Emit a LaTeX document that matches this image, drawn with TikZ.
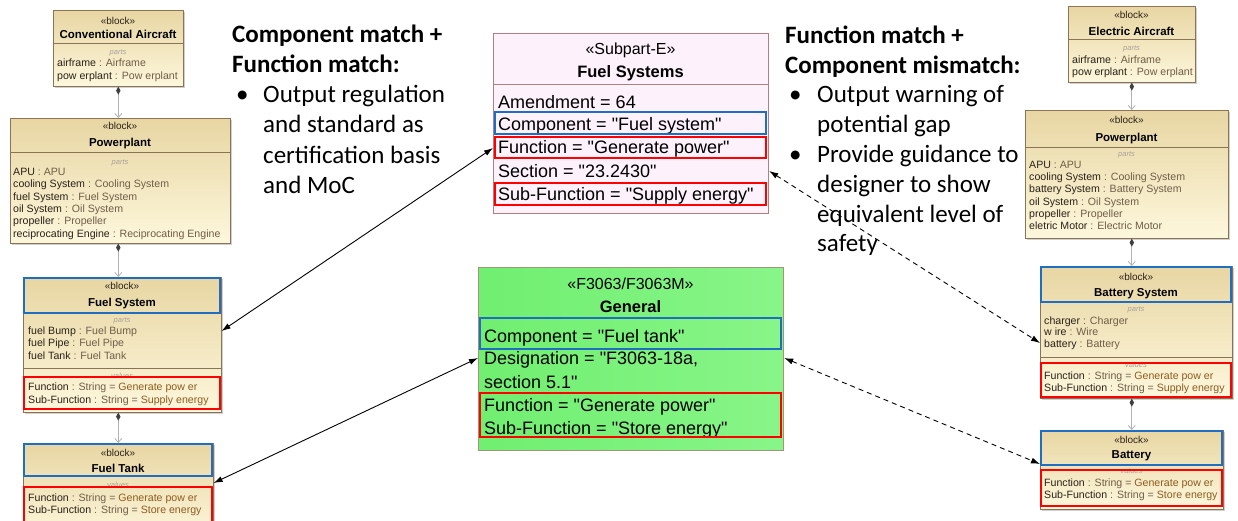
\documentclass[tikz,border=0pt]{standalone}
\usepackage{fontspec}
\setmainfont{Liberation Sans}[Ligatures=TeXOff]
\newfontfamily\calibri{Carlito}
\usetikzlibrary{arrows.meta,shadows}

\definecolor{blkedge}{HTML}{8B7355}
\definecolor{blkA}{HTML}{E8D6A3}
\definecolor{blkB}{HTML}{FDF7DC}
\definecolor{pname}{HTML}{2B2118}
\definecolor{ptype}{HTML}{6F5E48}
\definecolor{pval}{HTML}{8E5B1F}
\definecolor{lblgray}{HTML}{A8A29A}
\definecolor{pinkfill}{HTML}{FDF1FB}
\definecolor{pinkedge}{HTML}{B08080}
\definecolor{greenA}{HTML}{70EF70}
\definecolor{greenB}{HTML}{88F588}
\definecolor{greenedge}{HTML}{A39378}
\definecolor{hlred}{HTML}{FF0000}
\definecolor{hlblue}{HTML}{1F6EC1}

% property line: name in dark, ": Type" lighter
\newcommand{\bprop}[3]{\node[prop] at (#1) {\textcolor{pname}{#2}\space\textcolor{ptype}{: #3}};}
% value line: name, ": String =", value
\newcommand{\bval}[3]{\node[prop] at (#1) {\textcolor{pname}{#2}\space\textcolor{ptype}{: String =}\space\textcolor{pval}{#3}};}

\begin{document}
\begin{tikzpicture}[x=1pt,y=-1pt,
  blk/.style={draw=blkedge, line width=0.6pt, top color=blkA, bottom color=blkB,
    drop shadow={shadow xshift=1.8pt, shadow yshift=-1.8pt, opacity=0.3, fill=black!60},
    anchor=north west, inner sep=0pt},
  sepline/.style={draw=blkedge, line width=0.5pt},
  stereo/.style={font=\fontsize{10}{12}\selectfont, text=pname, anchor=base, inner sep=0pt},
  bname/.style={font=\fontsize{11.5}{13}\selectfont\bfseries, text=black, anchor=base, inner sep=0pt},
  plbl/.style={font=\fontsize{7.5}{8}\selectfont\itshape, text=lblgray, anchor=base, inner sep=0pt},
  prop/.style={font=\fontsize{10.6}{12}\selectfont, anchor=base west, inner sep=0pt},
  hlr/.style={draw=hlred, line width=1.8pt},
  hlb/.style={draw=hlblue, line width=1.8pt},
  comp/.style={draw=gray!60, line width=1.2pt,
    {Diamond[fill=black!75,color=black!75,length=8pt,width=4.5pt]}-{Straight Barb[length=4pt,width=7pt,line width=0.8pt]}},
  link/.style={draw=black, line width=0.9pt, {Latex[length=9pt,width=6pt]}-{Latex[length=9pt,width=6pt]}},
  dlink/.style={link, dash pattern=on 5pt off 4pt},
  big/.style={font=\calibri\fontsize{25}{30}\selectfont, anchor=base west, inner sep=0pt},
  bigb/.style={font=\calibri\bfseries\fontsize{25}{30}\selectfont, anchor=base west, inner sep=0pt},
  std/.style={font=\fontsize{18}{22}\selectfont, anchor=base west, inner sep=0pt},
  stdst/.style={font=\fontsize{16}{20}\selectfont, anchor=base, inner sep=0pt},
  stdbf/.style={font=\fontsize{16.5}{20}\selectfont\bfseries, anchor=base, inner sep=0pt}
]
\useasboundingbox[fill=white] (0,0) rectangle (1238,520);

% ---------------- Conventional aircraft hierarchy ----------------
\node[blk, minimum width=130pt, minimum height=76pt] (ca) at (53,10) {};
\draw[sepline] (53,43) -- (183,43);
\node[stereo] at (118,24) {«block»};
\node[bname] at (118,38.5) {Conventional Aircraft};
\node[plbl] at (118,54.5) {parts};
\bprop{57,66.5}{airframe}{Airframe}
\bprop{57,79}{pow erplant}{Pow erplant}

\node[blk, minimum width=220pt, minimum height=125pt] (pp) at (10,118) {};
\draw[sepline] (10,152) -- (230,152);
\node[stereo] at (120,129.5) {«block»};
\node[bname] at (120,146) {Powerplant};
\node[plbl] at (120,164) {parts};
\bprop{13,175.5}{APU}{APU}
\bprop{13,187.8}{cooling System}{Cooling System}
\bprop{13,200.1}{fuel System}{Fuel System}
\bprop{13,212.4}{oil System}{Oil System}
\bprop{13,224.7}{propeller}{Propeller}
\bprop{13,237}{reciprocating Engine}{Reciprocating Engine}

\node[blk, minimum width=198pt, minimum height=135pt] (fs) at (23,277) {};
\draw[sepline] (23,313) -- (221,313);
\draw[sepline] (23,368) -- (221,368);
\node[stereo] at (122,289.5) {«block»};
\node[bname] at (122,306) {Fuel System};
\node[plbl] at (122,322.5) {parts};
\bprop{28,334.5}{fuel Bump}{Fuel Bump}
\bprop{28,346.5}{fuel Pipe}{Fuel Pipe}
\bprop{28,359}{fuel Tank}{Fuel Tank}
\node[plbl] at (122,378.5) {values};
\bval{28,390.5}{Function}{Generate pow er}
\bval{28,403.5}{Sub-Function}{Supply energy}
\draw[hlb] (24,278) rectangle (220,313);
\draw[hlr] (24,377) rectangle (220,409);

\node[blk, minimum width=190pt, minimum height=95pt] (ft) at (23,443) {};
\draw[sepline] (23,476) -- (213,476);
\node[stereo] at (118,456.5) {«block»};
\node[bname] at (118,472) {Fuel Tank};
\node[plbl] at (118,487) {values};
\bval{28,501.5}{Function}{Generate pow er}
\bval{28,513.5}{Sub-Function}{Store energy}
\draw[hlb] (24,444) rectangle (212,476);
\draw[hlr] (24,487) rectangle (212,526);

\draw[comp] (ca.south) -- (ca.south |- pp.north);
\draw[comp] (ca.south |- pp.south) -- (ca.south |- fs.north);
\draw[comp] (ca.south |- fs.south) -- (ca.south |- ft.north);

% ---------------- Electric aircraft hierarchy ----------------
\node[blk, minimum width=127pt, minimum height=76pt] (ea) at (1068,6) {};
\draw[sepline] (1068,39) -- (1195,39);
\node[stereo] at (1131.5,18.5) {«block»};
\node[bname] at (1131.5,35) {Electric Aircraft};
\node[plbl] at (1131.5,50.5) {parts};
\bprop{1072,63.5}{airframe}{Airframe}
\bprop{1072,75}{pow erplant}{Pow erplant}

\node[blk, minimum width=203pt, minimum height=128pt] (pq) at (1025,110) {};
\draw[sepline] (1025,147) -- (1228,147);
\node[stereo] at (1126.5,123.5) {«block»};
\node[bname] at (1126.5,141) {Powerplant};
\node[plbl] at (1126.5,156.5) {parts};
\bprop{1029,168.5}{APU}{APU}
\bprop{1029,180.5}{cooling System}{Cooling System}
\bprop{1029,192.5}{battery System}{Battery System}
\bprop{1029,205}{oil System}{Oil System}
\bprop{1029,217}{propeller}{Propeller}
\bprop{1029,229}{eletric Motor}{Electric Motor}

\node[blk, minimum width=192pt, minimum height=132pt] (bs) at (1040,266) {};
\draw[sepline] (1040,302) -- (1232,302);
\draw[sepline] (1040,357) -- (1232,357);
\node[stereo] at (1136,280.5) {«block»};
\node[bname] at (1136,296) {Battery System};
\node[plbl] at (1136,311.5) {parts};
\bprop{1044,324.5}{charger}{Charger}
\bprop{1044,335.5}{w ire}{Wire}
\bprop{1044,347.5}{battery}{Battery}
\node[plbl] at (1136,367) {values};
\bval{1044,379.5}{Function}{Generate pow er}
\bval{1044,391.5}{Sub-Function}{Supply energy}
\draw[hlb] (1041,267) rectangle (1231,302);
\draw[hlr] (1041,363) rectangle (1231,397);

\node[blk, minimum width=183pt, minimum height=79pt] (bat) at (1040,430) {};
\draw[sepline] (1040,465) -- (1223,465);
\node[stereo] at (1131.5,443.5) {«block»};
\node[bname] at (1131.5,458) {Battery};
\node[plbl] at (1131.5,473) {values};
\bval{1044,486.5}{Function}{Generate pow er}
\bval{1044,498.5}{Sub-Function}{Store energy}
\draw[hlb] (1041,431) rectangle (1222,465);
\draw[hlr] (1041,470) rectangle (1222,506);

\draw[comp] (ea.south) -- (ea.south |- pq.north);
\draw[comp] (ea.south |- pq.south) -- (ea.south |- bs.north);
\draw[comp] (ea.south |- bs.south) -- (ea.south |- bat.north);

% ---------------- Regulation: Subpart-E ----------------
\node[draw=pinkedge, line width=1.2pt, fill=pinkfill, anchor=north west, inner sep=0pt,
  minimum width=275pt, minimum height=180pt] (sub) at (493,33) {};
\draw[draw=pinkedge, line width=1pt] (493,84) -- (768,84);
\node[stdst] at (630.5,54) {«Subpart-E»};
\node[stdbf] at (630.5,77) {Fuel Systems};
\node[std] at (498,108.5) {Amendment = 64};
\node[std] at (498,130.5) {Component = "Fuel system"};
\node[std] at (498,153.5) {Function = "Generate power"};
\node[std] at (498,177) {Section = "23.2430"};
\node[std] at (498,200.5) {Sub-Function = "Supply energy"};
\draw[hlb] (495,112) rectangle (766,134);
\draw[hlr] (495,137) rectangle (766,158);
\draw[hlr] (495,183) rectangle (766,205);

% ---------------- Standard: F3063 ----------------
\node[draw=greenedge, line width=1.2pt, left color=greenA, right color=greenB, anchor=north west,
  inner sep=0pt, minimum width=305pt, minimum height=183pt] (gen) at (478,267) {};
\node[stdst] at (630.5,289) {«F3063/F3063M»};
\node[stdbf] at (630.5,312) {General};
\node[std] at (484,342.5) {Component = "Fuel tank"};
\node[std] at (484,364.5) {Designation = "F3063-18a,};
\node[std] at (484,388.5) {section 5.1"};
\node[std] at (484,411.5) {Function = "Generate power"};
\node[std] at (484,434.5) {Sub-Function = "Store energy"};
\draw[hlb] (480,318) rectangle (781,349);
\draw[hlr] (480,393) rectangle (781,437);

% ---------------- Trace links ----------------
\draw[link] ([yshift=-54pt]fs.north east) -- ([yshift=-115pt]sub.north west);
\draw[link] ([yshift=-40pt]ft.north east) -- ([yshift=-91pt]gen.north west);
\draw[dlink] ([yshift=-138pt]sub.north east) -- ([yshift=-77pt]bs.north west);
\draw[dlink] ([yshift=-91pt]gen.north east) -- ([yshift=-34pt]bat.north west);

% ---------------- Annotations ----------------
\node[bigb] (h1) at (232,42) {Component match +};
\node[bigb] (h2) at (232,72) {Function match:};
\node[big] (b1) at (236,102) {•};
\node[big] (t1) at (263,102) {Output regulation};
\node[big] (t2) at (263,132.5) {and standard as};
\node[big] (t3) at (263,163) {certification basis};
\node[big] (t4) at (263,193.5) {and MoC};

\node[bigb] (h3) at (785,43) {Function match +};
\node[bigb] (h4) at (785,73) {Component mismatch:};
\node[big] (b2) at (789,102) {•};
\node[big] (u1) at (817,102) {Output warning of};
\node[big] (u2) at (817,132) {potential gap};
\node[big] (b3) at (789,162) {•};
\node[big] (u3) at (817,162) {Provide guidance to};
\node[big] (u4) at (817,192) {designer to show};
\node[big] (u5) at (817,222) {equivalent level of};
\node[big] (u6) at (817,251) {safety};
\end{tikzpicture}
\end{document}
